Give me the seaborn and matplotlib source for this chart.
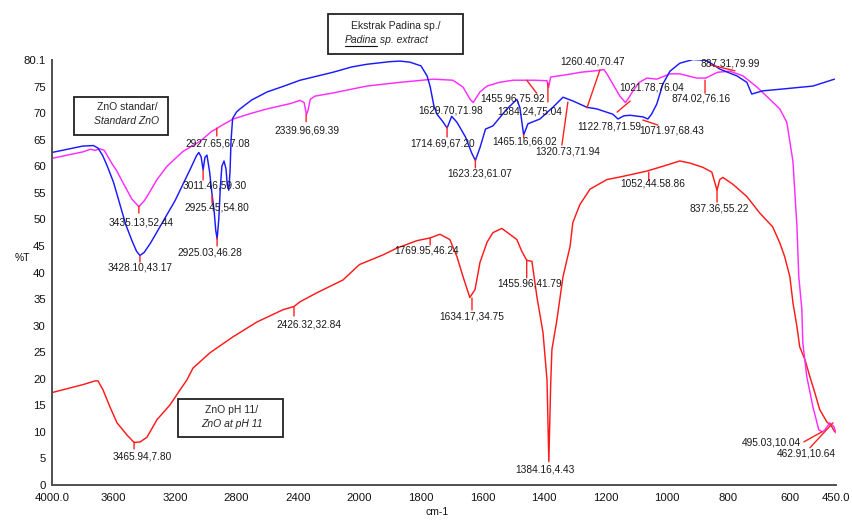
import numpy as np
import pandas as pd
import matplotlib
matplotlib.use("Agg")
import matplotlib.pyplot as plt
import seaborn as sns
from matplotlib.lines import Line2D
from matplotlib.patches import Rectangle

# ---------------- data ----------------
# Padina sp. extract (blue)
padina_wn = [4000, 3900, 3800, 3730, 3700, 3670, 3640, 3600, 3560, 3520, 3480, 3450, 3428,
             3400, 3360, 3300, 3250, 3200, 3150, 3100, 3060, 3045, 3030, 3017, 3005, 2992,
             2975, 2960, 2945, 2935, 2926, 2915, 2905, 2895, 2881, 2868, 2860, 2850, 2842,
             2835, 2825, 2800, 2777, 2700, 2600, 2500, 2386, 2300, 2172, 2050, 1976, 1900,
             1868, 1836, 1800, 1780, 1770, 1758, 1748, 1730, 1715, 1700, 1683, 1655, 1635,
             1623, 1608, 1590, 1566, 1520, 1488, 1478, 1466, 1452, 1413, 1371, 1338, 1306,
             1260, 1228, 1176, 1159, 1140, 1120, 1078, 1062, 1050, 1033, 1013, 990, 958,
             915, 887, 870, 828, 772, 740, 724, 688, 632, 525, 455]
padina_t = [62.6, 63.2, 63.8, 63.9, 63.4, 62.0, 60.0, 57.0, 53.0, 49.0, 46.0, 44.0, 43.2,
            43.8, 45.5, 48.5, 51.0, 53.5, 56.5, 59.5, 62.0, 62.6, 61.8, 59.3, 61.7, 62.1,
            59.0, 55.0, 51.5, 48.0, 46.3, 50.0, 56.0, 60.0, 61.0, 59.5, 56.5, 55.5, 59.0,
            65.0, 69.0, 70.2, 70.8, 72.5, 74.0, 75.0, 76.2, 76.8, 77.7, 78.7, 79.2, 79.7,
            79.8, 79.6, 78.9, 77.0, 75.0, 71.4, 69.8, 68.5, 67.2, 69.4, 68.3, 65.5, 62.5,
            61.1, 63.5, 67.0, 67.6, 70.8, 72.6, 71.0, 65.9, 68.0, 68.9, 71.1, 73.0, 72.3,
            71.1, 70.8, 69.8, 68.9, 69.5, 69.6, 69.3, 68.9, 69.8, 71.7, 75.5, 77.9, 79.4,
            80.1, 80.0, 79.9, 78.3, 77.0, 75.8, 73.6, 74.2, 74.5, 75.1, 76.4]

# Standard ZnO (magenta)
std_wn = [4000, 3900, 3800, 3750, 3720, 3690, 3660, 3640, 3610, 3580, 3540, 3480, 3435,
          3400, 3382, 3317, 3252, 3148, 3037, 2960, 2927, 2907, 2822, 2700, 2601, 2450,
          2386, 2360, 2345, 2335, 2320, 2290, 2172, 1976, 1868, 1760, 1696, 1663, 1640,
          1630, 1608, 1585, 1545, 1500, 1430, 1390, 1385, 1378, 1330, 1280, 1228, 1205,
          1195, 1176, 1153, 1135, 1125, 1110, 1090, 1065, 1033, 990, 958, 903, 874, 835,
          795, 752, 707, 665, 633, 610, 590, 577, 571, 561, 558, 545, 525, 506, 495, 486,
          470, 457, 450]
std_t = [61.5, 62.1, 62.7, 63.2, 63.0, 63.3, 63.0, 62.0, 60.5, 59.2, 57.0, 53.8, 52.4,
         53.5, 54.3, 57.5, 60.0, 62.8, 64.7, 66.6, 67.1, 67.5, 68.9, 70.0, 70.8, 71.8,
         72.4, 72.0, 69.7, 70.5, 72.6, 73.2, 73.8, 75.1, 75.8, 76.4, 76.2, 74.9, 72.6,
         72.0, 74.0, 75.1, 75.8, 76.2, 76.2, 76.1, 74.8, 76.8, 77.2, 77.7, 78.0, 78.2,
         77.4, 75.5, 73.2, 72.0, 72.8, 74.2, 75.8, 76.6, 76.4, 77.4, 77.4, 76.6, 76.6,
         77.7, 77.9, 77.0, 74.9, 72.6, 70.8, 68.3, 60.9, 48.6, 39.2, 33.0, 26.8, 20.4,
         14.7, 10.4, 10.0, 10.4, 11.7, 11.0, 9.8]

# ZnO at pH 11 (red)
ph11_wn = [4000, 3798, 3720, 3701, 3668, 3623, 3577, 3512, 3466, 3427, 3382, 3317, 3232,
           3167, 3122, 3083, 2972, 2822, 2666, 2497, 2426, 2386, 2276, 2107, 2000, 1924,
           1878, 1813, 1771, 1738, 1706, 1683, 1663, 1641, 1624, 1608, 1585, 1566, 1537,
           1511, 1488, 1472, 1456, 1439, 1423, 1403, 1390, 1384, 1378, 1374, 1358, 1338,
           1315, 1306, 1283, 1250, 1195, 1143, 1065, 1013, 958, 925, 883, 854, 837, 828,
           818, 785, 740, 698, 656, 633, 617, 600, 590, 577, 568, 551, 535, 519, 503, 480,
           464, 454]
ph11_t = [17.4, 18.9, 19.6, 19.6, 17.9, 14.7, 11.7, 9.4, 8.0, 8.1, 9.0, 12.3, 15.1,
          17.9, 19.8, 22.0, 24.9, 27.9, 30.7, 33.0, 33.6, 34.5, 36.2, 38.6, 41.5, 43.3,
          44.6, 46.0, 46.5, 47.2, 46.2, 43.0, 39.2, 35.3, 36.8, 41.9, 45.7, 47.5, 48.3,
          47.2, 46.2, 44.0, 42.3, 42.1, 35.5, 28.7, 19.8, 4.4, 19.0, 25.5, 31.0, 39.2,
          44.9, 49.4, 52.8, 55.7, 57.5, 58.1, 59.1, 60.0, 61.0, 60.6, 59.8, 58.9, 55.5,
          57.5, 57.9, 56.6, 54.3, 51.2, 48.6, 45.6, 43.0, 39.2, 34.3, 29.8, 26.0, 23.6,
          20.4, 17.4, 14.2, 11.9, 11.0, 10.0]

# peak labels: wavenumber anchor, %T anchor, text
peak_wn = [3435, 3428, 3466, 2928, 3017, 2959, 2926, 2347, 1770, 1634, 1456, 1384, 2426,
           1630, 1715, 1623, 1456, 1387, 1466, 1322, 1260, 1159, 1162, 1078, 876, 860,
           1059, 837, 496, 460]
peak_t = [52.5, 43.1, 8.1, 67.2, 59.3, 54.4, 46.5, 69.7, 46.5, 35.2, 42.4, 4.4, 33.5,
          72.0, 67.4, 61.2, 76.2, 75.7, 65.9, 72.1, 71.0, 68.7, 70.2, 68.7, 76.2, 79.1,
          58.9, 55.5, 10.0, 11.7]
peak_text = ["3435.13,52.44", "3428.10,43.17", "3465.94,7.80", "2927.65,67.08",
             "3011.46,59.30", "2925.45,54.80", "2925.03,46.28", "2339.96,69.39",
             "1769.95,46.24", "1634.17,34.75", "1455.96,41.79", "1384.16,4.43",
             "2426.32,32.84", "1629.70,71.98", "1714.69,67.20", "1623.23,61.07",
             "1455.96,75.92", "1384.24,75.04", "1465.16,66.02", "1320.73,71.94",
             "1260.40,70.47", "1122.78,71.59", "1021.78,76.04", "1071.97,68.43",
             "874.02,76.16", "887.31,79.99", "1052,44.58.86", "837.36,55.22",
             "495.03,10.04", "462.91,10.64"]
# leader end offsets and text offsets (pixels)
lead_off = [(0, -7), (0, -6), (0, -7), (0, -8), (0, -10), (0, -7), (0, -8), (0, -7),
            (0, -7), (0, -12), (0, -18), (0, 0), (0, -9), (0, 0), (0, -10), (0, -8),
            (10, -13), (0, -19), (0, -3), (-6, -43), (13, 38), (0, 0), (13, 11), (15, -5),
            (0, -13), (25, -6), (0, -8), (0, -12), (-18, -10), (-23, -25)]
text_off = [(2, -16), (0, -11), (8, -15), (1, -15), (12, -16), (5, -11), (-7, -15), (1, -16),
            (-4, -13), (0, -18), (3, -24), (-4, -8), (15, -17), (-23, -8), (-4, -17), (4, -14),
            (-14, -18), (-18, -29), (1, -7), (0, -50), (6, 46), (-9, -6), (35, 25), (29, -10),
            (-4, -18), (20, 1), (4, -11), (2, -18), (-50, -11), (-27, -31)]

x_ticks = [4000, 3600, 3200, 2800, 2400, 2000, 1800, 1600, 1400, 1200, 1000, 800, 600, 450]
x_tick_labels = ["4000.0", "3600", "3200", "2800", "2400", "2000", "1800", "1600", "1400",
                 "1200", "1000", "800", "600", "450.0"]
y_ticks = [0, 5, 10, 15, 20, 25, 30, 35, 40, 45, 50, 55, 60, 65, 70, 75, 80.1]
y_tick_labels = ["0", "5", "10", "15", "20", "25", "30", "35", "40", "45", "50", "55", "60",
                 "65", "70", "75", "80.1"]

# ---------------- plot ----------------
sns.set_style("white")
plt.rcParams["font.family"] = ["Liberation Sans", "DejaVu Sans"]

W, H = 853, 525
fig = plt.figure(figsize=(W / 100, H / 100), dpi=100)
ax = fig.add_axes([52 / W, 40 / H, 784 / W, 425.5 / H])


def fwd(x):
    x = np.asarray(x, dtype=float)
    return np.where(x >= 2000, x, 2000 + 2 * (x - 2000))


def inv(y):
    y = np.asarray(y, dtype=float)
    return np.where(y >= 2000, y, 2000 + (y - 2000) / 2)


ax.set_xscale("function", functions=(fwd, inv))

df_p = pd.DataFrame({"wn": padina_wn, "T": padina_t})
df_s = pd.DataFrame({"wn": std_wn, "T": std_t})
df_r = pd.DataFrame({"wn": ph11_wn, "T": ph11_t})

lw = 1.05
sns.lineplot(data=df_r, x="wn", y="T", color="#ff1a1a", lw=lw, estimator=None, sort=False, ax=ax)
sns.lineplot(data=df_s, x="wn", y="T", color="#ff2bff", lw=lw, estimator=None, sort=False, ax=ax)
sns.lineplot(data=df_p, x="wn", y="T", color="#1a1aff", lw=lw, estimator=None, sort=False, ax=ax)

ax.set_xlim(4000, 450)
ax.set_ylim(0, 80.1)

ax.set_xticks(x_ticks)
ax.set_xticklabels(x_tick_labels)
ax.set_yticks(y_ticks)
ax.set_yticklabels(y_tick_labels)
ax.minorticks_off()

for s in ["top", "right"]:
    ax.spines[s].set_visible(False)
for s in ["left", "bottom"]:
    ax.spines[s].set_color("#505050")
    ax.spines[s].set_linewidth(1.4)
ax.tick_params(axis="both", direction="out", length=3, width=1.2, color="#505050",
               labelsize=8.2, labelcolor="#111111", pad=1.5)
ax.tick_params(axis="x", length=4)
ax.grid(False)
ax.set_xlabel("")
ax.set_ylabel("")

fig.text(22 / W, 1 - 258 / H, "%T", fontsize=7.5, ha="center", va="center", color="#111111")
fig.text(437 / W, 1 - 512 / H, "cm-1", fontsize=7.5, ha="center", va="center", color="#111111")

# peak annotations
for wn, t, txt, lo, to in zip(peak_wn, peak_t, peak_text, lead_off, text_off):
    if lo != (0, 0):
        ax.annotate("", xy=(wn, t), xytext=lo, textcoords="offset pixels",
                    arrowprops=dict(arrowstyle="-", color="#ff2020", lw=1.0,
                                    shrinkA=0, shrinkB=0))
    ax.annotate(txt, xy=(wn, t), xytext=to, textcoords="offset pixels",
                ha="center", va="center", fontsize=7.3, color="#1a1a1a")


# legend-like boxes
def box(x0, y0, x1, y1):
    r = Rectangle((x0 / W, 1 - y1 / H), (x1 - x0) / W, (y1 - y0) / H,
                  transform=fig.transFigure, fill=False, ec="#222222", lw=1.3)
    fig.patches.append(r)


box(74, 97, 168, 135)
fig.text(127 / W, 1 - 107 / H, "ZnO standar/", fontsize=7.5, ha="center", va="center")
fig.text(127 / W, 1 - 121 / H, "Standard ZnO", fontsize=7.5, ha="center", va="center",
         style="italic")

box(328, 14, 463, 54)
fig.text(396 / W, 1 - 26 / H, "Ekstrak Padina sp./", fontsize=7.5, ha="center", va="center")
split_x = 377
t1 = fig.text(split_x / W, 1 - 40 / H, "Padina", fontsize=7.5, ha="right", va="center",
              style="italic")
fig.text(split_x / W, 1 - 40 / H, " sp. extract", fontsize=7.5, ha="left", va="center",
         style="italic")

box(178, 399, 283, 437)
fig.text(232 / W, 1 - 410 / H, "ZnO pH 11/", fontsize=7.5, ha="center", va="center")
fig.text(232 / W, 1 - 424 / H, "ZnO at pH 11", fontsize=7.5, ha="center", va="center",
         style="italic")

fig.canvas.draw()
bb = t1.get_window_extent()
ly = (bb.y0 - 0.5) / H
fig.lines.append(Line2D([bb.x0 / W, bb.x1 / W], [ly, ly], transform=fig.transFigure,
                        color="#111111", lw=0.8))

fig.savefig("out.png", dpi=100)
